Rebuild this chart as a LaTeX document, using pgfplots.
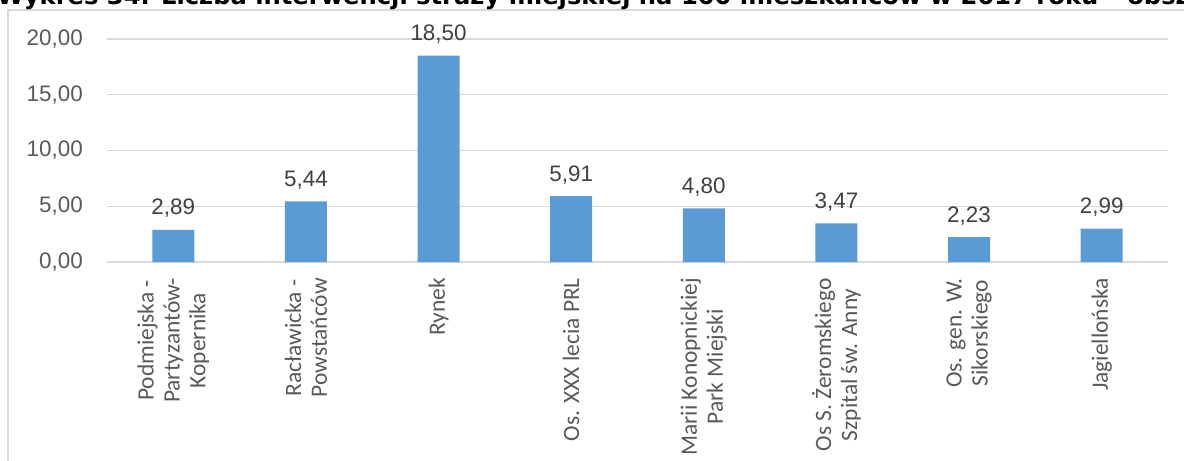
\documentclass[border=0pt]{standalone}
\usepackage{pgfplots}
\pgfplotsset{compat=1.18}
\usepackage{fontspec}
\setmainfont{Liberation Sans}
\newfontfamily\catfont{Carlito}
\newfontfamily\titlefont{DejaVu Sans}
\definecolor{barblue}{HTML}{5B9BD5}
\definecolor{gridgray}{HTML}{D9D9D9}
\definecolor{ticktext}{HTML}{595959}
\definecolor{valtext}{HTML}{404040}
\begin{document}
\begin{tikzpicture}
\useasboundingbox (-107bp,-199bp) rectangle (1077bp,262bp);
\clip (-107bp,-199bp) rectangle (1077bp,262bp);
\draw[gridgray, line width=1.2bp] (-99bp,-230bp) -- (-99bp,252bp) -- (1100bp,252bp);
\node[anchor=base west, font=\titlefont\bfseries\fontsize{24.3}{29}\selectfont, inner sep=0] at (-110bp,257bp) {Wykres 34. Liczba interwencji straży miejskiej na 100 mieszkańców w 2017 roku – obszary};
\begin{axis}[
  at={(0,0)}, anchor=south west,
  scale only axis, width=1061bp, height=223bp,
  ymin=0, ymax=20, ytick={0,5,10,15,20},
  xmin=-0.5, xmax=7.5, xtick={0,1,2,3,4,5,6,7},
  xticklabels={
    {Podmiejska -\\Partyzantów-\\Kopernika},
    {Racławicka -\\Powstańców},
    {Rynek},
    {Os. XXX lecia PRL},
    {Marii Konopnickiej\\Park Miejski},
    {Os S. Żeromskiego\\Szpital św. Anny},
    {Os. gen. W.\\Sikorskiego},
    {Jagiellońska}},
  axis line style={draw=none},
  major tick length=0pt,
  ymajorgrids,
  grid style={gridgray, line width=1.2bp},
  yticklabel style={font=\fontsize{22.5}{27}\selectfont, text=ticktext, inner sep=0pt, xshift=-24bp,
    /pgf/number format/.cd, fixed, fixed zerofill, precision=2, use comma, assume math mode=true},
  xticklabel style={font=\catfont\fontsize{23.5}{26}\selectfont, text=ticktext, rotate=90, anchor=east, align=center, inner sep=0pt},
  xticklabel shift=16bp,
  ybar, bar width=42bp,
  nodes near coords={\pgfmathprintnumber[fixed, fixed zerofill, precision=2, use comma, assume math mode=true]{\pgfplotspointmeta}},
  every node near coord/.append style={font=\fontsize{22.5}{27}\selectfont, text=valtext, anchor=base, inner sep=0pt, yshift=15bp},
  clip=false,
]
\addplot[fill=barblue, draw=none] coordinates {
  (0,2.89) (1,5.44) (2,18.50) (3,5.91) (4,4.80) (5,3.47) (6,2.23) (7,2.99)
};
\end{axis}
\end{tikzpicture}
\end{document}
